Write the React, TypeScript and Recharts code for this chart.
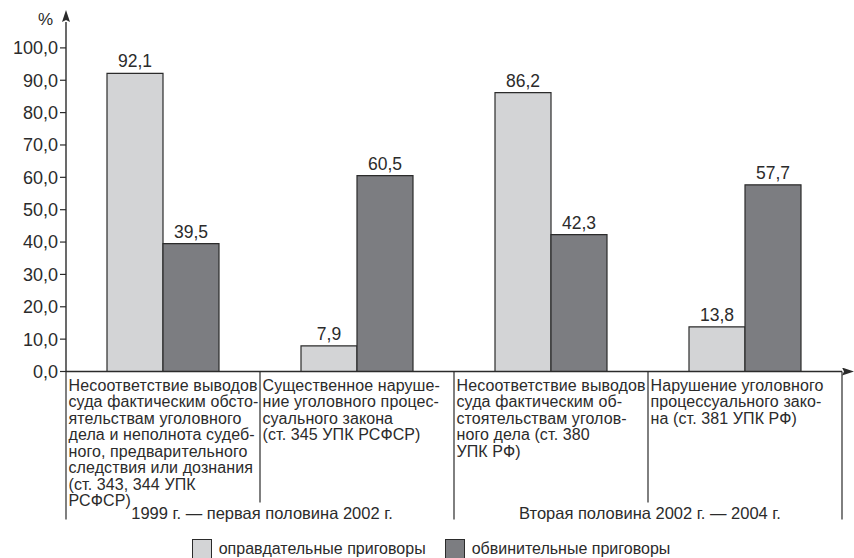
import { BarChart, Bar, XAxis, YAxis, LabelList, Legend, Label } from 'recharts';

const categories = ['cat1', 'cat2', 'cat3', 'cat4'];

// wrapped category captions, one array of lines per category
const categoryLines = [
  [
    'Несоответствие выводов',
    'суда фактическим обсто-',
    'ятельствам уголовного',
    'дела и неполнота судеб-',
    'ного, предварительного',
    'следствия или дознания',
    '(ст. 343, 344 УПК',
    'РСФСР)',
  ],
  ['Существенное наруше-', 'ние уголовного процес-', 'суального закона', '(ст. 345 УПК РСФСР)'],
  ['Несоответствие выводов', 'суда фактическим об-', 'стоятельствам уголов-', 'ного дела (ст. 380', 'УПК РФ)'],
  ['Нарушение уголовного', 'процессуального зако-', 'на (ст. 381 УПК РФ)'],
];

const periods = ['1999 г. — первая половина 2002 г.', 'Вторая половина 2002 г. — 2004 г.'];

const acquittals = [92.1, 7.9, 86.2, 13.8];
const convictions = [39.5, 60.5, 42.3, 57.7];

const yTicks = [0, 10, 20, 30, 40, 50, 60, 70, 80, 90, 100];

const data = categories.map((name, i) => ({
  name,
  acquittal: acquittals[i],
  conviction: convictions[i],
}));

const FONT = '"Liberation Sans", Arial, sans-serif';
const LIGHT = '#d3d4d6';
const DARK = '#7c7d81';
const INK = '#2b2b2b';

const CHART_W = 854;
const CHART_H = 558;
const PLOT_LEFT = 66;
const PLOT_RIGHT = 12;

const fmt = (v: number) => v.toFixed(1).replace('.', ',');

const CategoryTick = (props: any) => {
  const { x, y, payload, index } = props;
  const half = payload?.offset ?? (CHART_W - PLOT_LEFT - PLOT_RIGHT) / categories.length / 2;
  const left = x - half;
  const right = x + half;
  const lines = categoryLines[index] || [];
  const groupStart = index % 2 === 0;
  return (
    <g>
      <line x1={left} y1={y} x2={left} y2={y + (groupStart ? 148 : 131)} stroke={INK} strokeWidth={1.2} />
      {index === categories.length - 1 && (
        <line x1={right} y1={y} x2={right} y2={y + 148} stroke={INK} strokeWidth={1.2} />
      )}
      <text x={left + 2.5} y={y + 19} fontFamily={FONT} fontSize={16} letterSpacing={0.1} fill={INK}>
        {lines.map((line, i) => (
          <tspan key={i} x={left + 2.5} dy={i === 0 ? 0 : 16.5}>
            {line}
          </tspan>
        ))}
      </text>
      {groupStart && (
        <text x={right + 2} y={y + 147} textAnchor="middle" fontFamily={FONT} fontSize={16.5} fill={INK}>
          {periods[index / 2]}
        </text>
      )}
    </g>
  );
};

const LegendContent = () => {
  const items = [
    { label: 'оправдательные приговоры', color: LIGHT },
    { label: 'обвинительные приговоры', color: DARK },
  ];
  return (
    <div style={{ display: 'flex', justifyContent: 'center', gap: 19, fontFamily: FONT, fontSize: 16, color: INK }}>
      {items.map((it) => (
        <div key={it.label} style={{ display: 'flex', alignItems: 'center' }}>
          <span
            style={{
              display: 'inline-block',
              width: 18,
              height: 18,
              background: it.color,
              border: `1.2px solid ${INK}`,
              marginRight: 7,
            }}
          />
          {it.label}
        </div>
      ))}
    </div>
  );
};

export default function App() {
  return (
    <div style={{ position: 'absolute', left: 0, top: 0, width: CHART_W, height: CHART_H, background: '#fff' }}>
      <svg width={0} height={0} style={{ position: 'absolute' }}>
        <defs>
          <marker
            id="axis-arrow"
            viewBox="0 0 12 8"
            refX={0}
            refY={4}
            markerWidth={12}
            markerHeight={8}
            markerUnits="userSpaceOnUse"
            orient="auto-start-reverse"
          >
            <path d="M0,0 L12,4 L0,8 L2,4 z" fill={INK} />
          </marker>
        </defs>
      </svg>
      <BarChart
        width={CHART_W}
        height={CHART_H}
        data={data}
        margin={{ top: 22, right: PLOT_RIGHT, bottom: 0, left: 0 }}
        barCategoryGap={41}
        barGap={0}
      >
        <XAxis
          dataKey="name"
          height={186.5}
          interval={0}
          tickLine={false}
          tickSize={0}
          tickMargin={0}
          axisLine={{ stroke: INK, strokeWidth: 1.4, markerEnd: 'url(#axis-arrow)' }}
          tick={<CategoryTick />}
        />
        <YAxis
          width={PLOT_LEFT}
          domain={[0, 108]}
          ticks={yTicks}
          allowDataOverflow
          tickFormatter={fmt}
          tickSize={6}
          tickMargin={2}
          tickLine={{ stroke: INK, strokeWidth: 1.2 }}
          axisLine={{ stroke: INK, strokeWidth: 1.4, markerStart: 'url(#axis-arrow)' }}
          tick={{ fill: INK, fontFamily: FONT, fontSize: 18 }}
        >
          <Label
            content={(p: any) => {
              const vb = p.viewBox || { x: 0, y: 22, width: PLOT_LEFT };
              return (
                <text x={vb.x + vb.width - 13} y={vb.y + 3} textAnchor="end" fontFamily={FONT} fontSize={17} fill={INK}>
                  %
                </text>
              );
            }}
          />
        </YAxis>
        <Legend
          layout="horizontal"
          verticalAlign="middle"
          align="center"
          content={<LegendContent />}
          wrapperStyle={{ top: 539, left: 4, width: CHART_W }}
        />
        <Bar dataKey="acquittal" fill={LIGHT} stroke={INK} strokeWidth={1.2} isAnimationActive={false}>
          <LabelList dataKey="acquittal" position="top" offset={6} formatter={(v: any) => fmt(Number(v))} fill={INK} fontFamily={FONT} fontSize={17.5} />
        </Bar>
        <Bar dataKey="conviction" fill={DARK} stroke={INK} strokeWidth={1.2} isAnimationActive={false}>
          <LabelList dataKey="conviction" position="top" offset={6} formatter={(v: any) => fmt(Number(v))} fill={INK} fontFamily={FONT} fontSize={17.5} />
        </Bar>
      </BarChart>
    </div>
  );
}
